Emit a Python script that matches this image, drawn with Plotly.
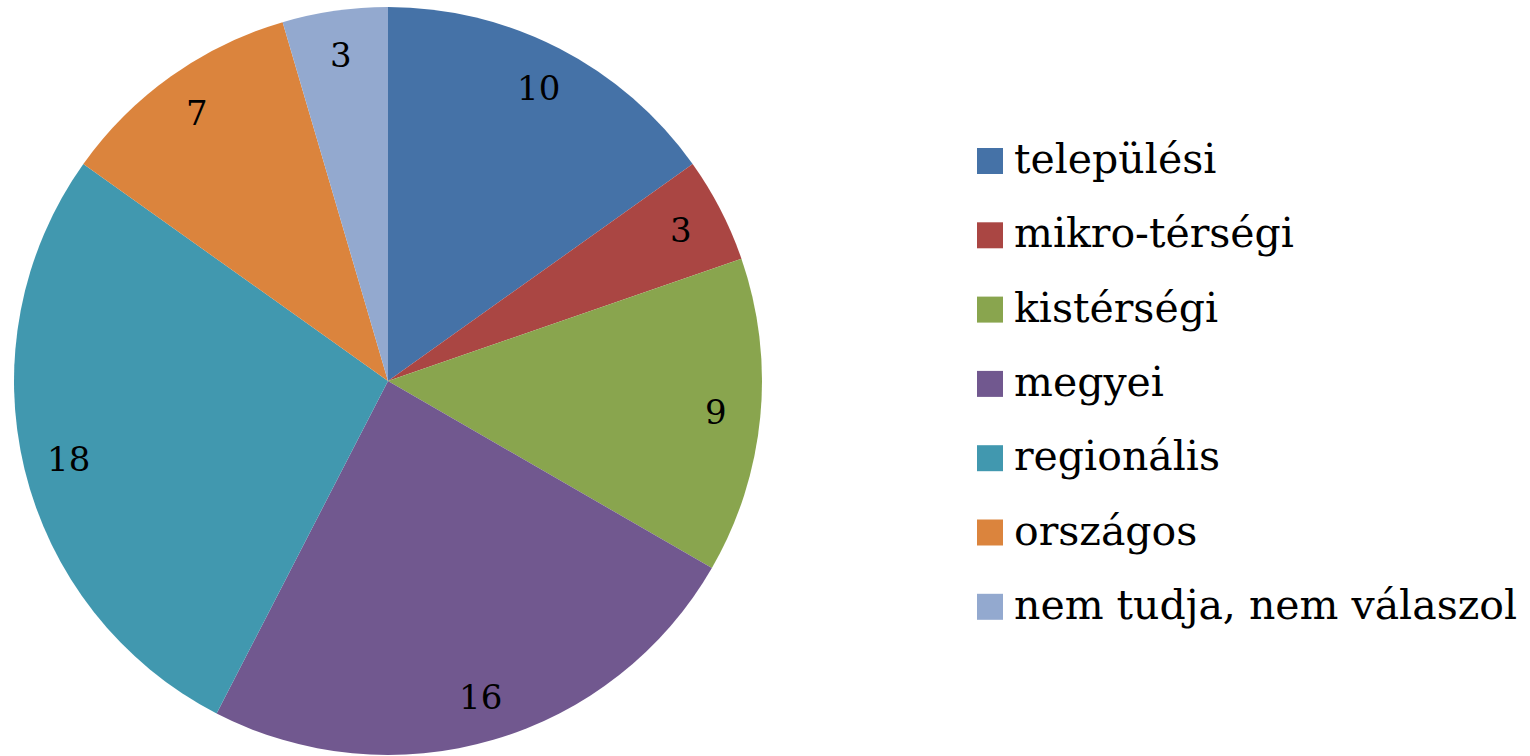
import numpy as np
import plotly.graph_objects as go

labels = ["települési", "mikro-térségi", "kistérségi", "megyei",
          "regionális", "országos", "nem tudja, nem válaszol"]
values = [10, 3, 9, 16, 18, 7, 3]
colors = ["#4572A7", "#AA4643", "#89A54E", "#71588F",
          "#4198AF", "#DB843D", "#93A9CF"]

W, H = 1530, 756
FONT = "DejaVu Serif"

# pie geometry in pixels
cx, cy, R = 388, 381, 374

fig = go.Figure()
fig.add_trace(go.Pie(
    labels=labels,
    values=values,
    marker=dict(colors=colors, line=dict(width=0)),
    sort=False,
    direction="clockwise",
    rotation=0,
    textinfo="none",
    hoverinfo="label+value",
    showlegend=False,
    domain=dict(x=[(cx - R) / W, (cx + R) / W],
                y=[(H - cy - R) / H, (H - cy + R) / H]),
))

# value labels near the outer edge of each slice
total = sum(values)
cum = np.cumsum([0] + values)
for i, v in enumerate(values):
    mid = (cum[i] + v / 2) / total * 2 * np.pi
    r = 0.88 * R
    px = cx + r * np.sin(mid)
    py = cy - r * np.cos(mid)
    fig.add_annotation(x=px / W, y=1 - py / H, xref="paper", yref="paper",
                       text=str(v), showarrow=False,
                       font=dict(family=FONT, size=34, color="black"),
                       xanchor="center", yanchor="middle")

# legend drawn by hand so the squares can be large
top, step, sq = 161, 74.3, 26
for i, (lab, col) in enumerate(zip(labels, colors)):
    yc = top + i * step
    fig.add_shape(type="rect", xref="paper", yref="paper",
                  x0=977 / W, x1=(977 + sq) / W,
                  y0=1 - (yc + sq / 2) / H, y1=1 - (yc - sq / 2) / H,
                  fillcolor=col, line=dict(width=0))
    fig.add_annotation(x=1012 / W, y=1 - (yc - 2) / H, xref="paper", yref="paper",
                       text=lab, showarrow=False,
                       font=dict(family=FONT, size=41, color="black"),
                       xanchor="left", yanchor="middle")

fig.update_layout(
    width=W, height=H,
    margin=dict(l=0, r=0, t=0, b=0),
    paper_bgcolor="white",
    plot_bgcolor="white",
)

fig.write_html("out.html", config={"displayModeBar": False},
               post_script="document.body.style.margin='0';")
